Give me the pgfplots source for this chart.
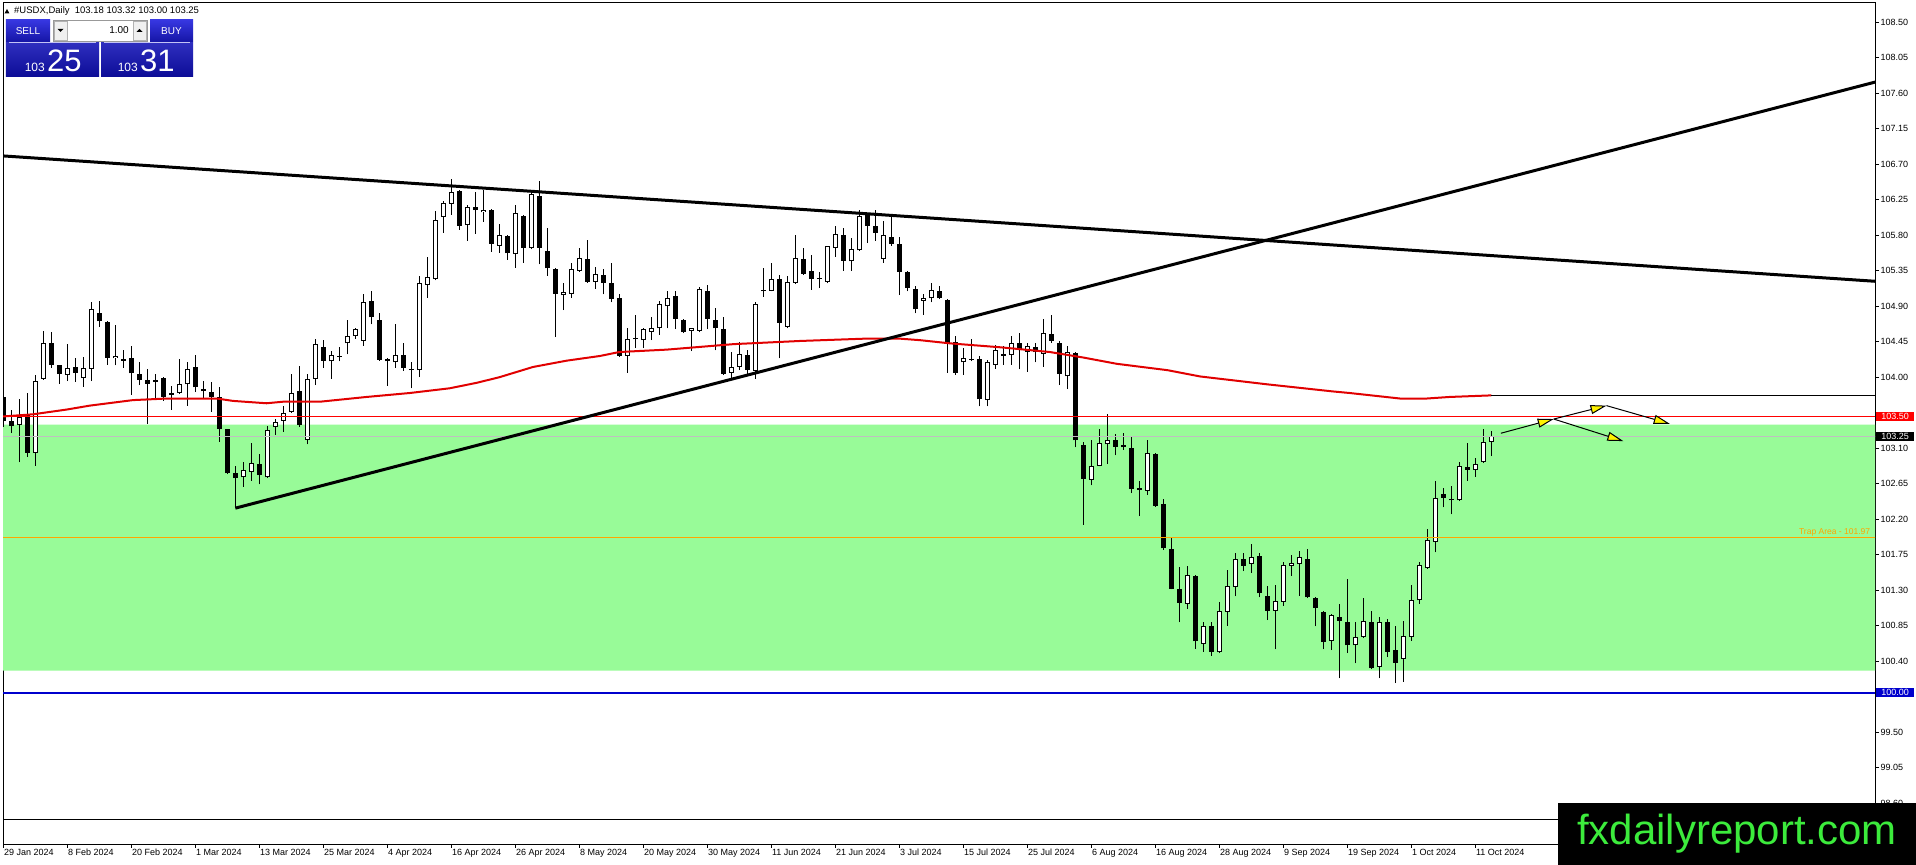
\documentclass[border=0pt]{standalone}
\usepackage{pgfplots}
\pgfplotsset{compat=1.18}
\usepackage{pgfplotstable}
\usepackage{fontspec}
\setmainfont{Liberation Sans}
\usetikzlibrary{arrows.meta}
\definecolor{zone}{RGB}{152,251,152}
\definecolor{lvlblue}{RGB}{0,0,205}
\definecolor{maRed}{RGB}{225,0,0}
\definecolor{trap}{RGB}{255,165,0}
\definecolor{fxgreen}{RGB}{60,235,60}
\definecolor{btntop}{RGB}{55,55,225}
\definecolor{btnbot}{RGB}{12,12,150}

\pgfplotstableread{
i o h l c
0 103.75 103.80 103.37 103.44
1 103.45 103.59 103.29 103.38
3 103.52 103.80 102.99 103.04
6 104.44 104.57 104.12 104.16
7 104.15 104.16 103.92 104.04
9 104.13 104.24 103.94 104.06
12 104.82 104.97 104.64 104.71
13 104.70 104.71 104.16 104.25
15 104.23 104.35 104.12 104.21
16 104.24 104.39 103.78 104.05
17 104.04 104.19 103.90 103.97
18 103.97 104.11 103.41 103.92
19 103.96 104.04 103.74 103.94
20 103.99 104.00 103.70 103.75
21 103.80 103.89 103.59 103.78
24 104.13 104.28 103.81 103.87
25 103.85 103.95 103.73 103.82
26 103.81 103.94 103.56 103.75
27 103.75 103.87 103.18 103.35
28 103.34 103.35 102.77 102.78
29 102.78 102.88 102.34 102.72
32 102.90 103.03 102.64 102.76
37 103.83 104.14 103.37 103.40
40 104.38 104.47 104.12 104.21
46 104.97 105.09 104.67 104.76
47 104.72 104.82 104.21 104.22
48 104.23 104.24 103.89 104.20
50 104.28 104.44 104.08 104.12
51 104.11 104.19 103.86 104.09
57 106.36 106.37 105.87 105.92
59 106.16 106.35 105.82 106.12
61 106.12 106.13 105.59 105.69
63 105.79 105.80 105.49 105.57
65 106.05 106.06 105.45 105.64
67 106.30 106.49 105.43 105.64
68 105.60 105.89 105.29 105.38
69 105.37 105.38 104.51 105.06
73 105.50 105.74 105.20 105.21
75 105.30 105.37 105.05 105.20
76 105.20 105.45 104.95 104.99
77 105.00 105.06 104.26 104.27
84 105.03 105.10 104.61 104.74
85 104.73 104.74 104.56 104.57
88 105.10 105.17 104.61 104.74
89 104.73 104.88 104.34 104.62
90 104.61 104.76 104.03 104.04
93 104.28 104.35 104.03 104.09
95 105.11 105.39 105.02 105.09
97 105.25 105.30 104.24 104.69
100 105.50 105.64 105.30 105.31
101 105.35 105.55 105.11 105.25
102 105.26 105.34 105.13 105.24
105 105.81 105.89 105.35 105.48
108 106.06 106.07 105.70 105.92
109 105.92 106.12 105.73 105.83
111 105.78 106.04 105.67 105.69
112 105.69 105.78 105.04 105.34
113 105.34 105.35 105.09 105.13
114 105.12 105.16 104.81 104.86
117 105.10 105.16 104.99 105.00
118 104.98 104.99 104.06 104.44
119 104.45 104.52 104.03 104.06
122 104.23 104.27 103.63 103.72
125 104.30 104.40 104.16 104.27
127 104.43 104.56 104.10 104.35
129 104.38 104.44 104.19 104.32
131 104.55 104.79 104.44 104.46
132 104.44 104.46 103.90 104.04
134 104.31 104.32 103.11 103.20
135 103.14 103.18 102.13 102.71
139 103.21 103.28 103.01 103.12
140 103.14 103.29 103.08 103.11
141 103.10 103.25 102.53 102.58
142 102.59 102.69 102.24 102.57
144 103.03 103.04 102.36 102.37
145 102.39 102.45 101.81 101.83
146 101.82 101.96 101.31 101.32
147 101.32 101.60 100.89 101.14
149 101.48 101.49 100.56 100.65
151 100.85 100.90 100.47 100.52
155 101.70 101.77 101.54 101.61
157 101.73 101.77 101.21 101.26
158 101.23 101.35 100.92 101.04
163 101.70 101.82 101.20 101.21
164 101.20 101.21 100.84 101.08
165 101.02 101.03 100.55 100.64
167 100.96 101.13 100.18 100.91
168 100.89 101.44 100.50 100.60
171 100.89 101.03 100.30 100.31
173 100.89 100.94 100.45 100.52
174 100.54 100.85 100.12 100.38
180 102.52 102.59 102.35 102.47
181 102.46 102.62 102.26 102.44
183 102.86 103.16 102.69 102.83
}\bear

\pgfplotstableread{
i o h l c
2 103.39 103.73 102.92 103.50
4 103.04 104.03 102.88 103.95
5 103.98 104.59 103.97 104.43
8 104.03 104.42 103.95 104.12
10 103.99 104.26 103.88 104.12
11 104.11 104.95 103.95 104.86
14 104.24 104.66 104.15 104.27
22 103.80 104.23 103.79 103.92
23 103.91 104.19 103.64 104.11
30 102.73 102.92 102.61 102.83
31 102.80 103.16 102.69 102.91
33 102.73 103.38 102.72 103.33
34 103.37 103.47 103.27 103.43
35 103.45 103.64 103.31 103.55
36 103.56 104.04 103.55 103.80
38 103.21 104.04 103.15 103.98
39 103.98 104.48 103.90 104.42
41 104.20 104.33 103.98 104.28
42 104.26 104.38 104.20 104.27
43 104.43 104.72 104.29 104.52
44 104.52 104.62 104.49 104.61
45 104.46 105.06 104.40 104.95
49 104.19 104.68 104.12 104.28
52 104.09 105.29 104.00 105.19
53 105.17 105.52 105.01 105.27
54 105.25 106.11 105.23 106.00
55 106.03 106.24 105.83 106.21
56 106.20 106.51 106.06 106.35
58 105.93 106.18 105.73 106.16
60 106.09 106.38 105.97 106.12
62 105.67 105.94 105.58 105.81
64 105.56 106.18 105.39 106.08
66 105.64 106.35 105.62 106.32
70 105.04 105.19 104.85 105.08
71 105.06 105.45 105.01 105.37
72 105.35 105.64 105.34 105.51
74 105.21 105.40 105.12 105.31
78 104.27 104.63 104.06 104.49
79 104.48 104.79 104.37 104.49
80 104.47 104.63 104.37 104.61
81 104.58 104.76 104.47 104.63
82 104.62 104.97 104.54 104.93
83 104.90 105.10 104.62 105.01
86 104.59 104.63 104.33 104.62
87 104.59 105.14 104.57 105.12
91 104.06 104.32 103.98 104.13
92 104.13 104.45 104.09 104.30
94 104.08 104.95 103.98 104.93
96 105.10 105.45 105.09 105.25
98 104.64 105.28 104.62 105.21
99 105.20 105.80 105.18 105.51
103 105.21 105.67 105.19 105.66
104 105.64 105.92 105.53 105.82
106 105.47 105.77 105.35 105.62
107 105.61 106.12 105.60 106.05
110 105.50 105.98 105.45 105.80
115 104.97 105.06 104.79 105.00
116 105.00 105.20 104.95 105.11
120 104.19 104.37 104.03 104.25
121 104.22 104.49 104.20 104.23
123 103.71 104.22 103.63 104.19
124 104.16 104.41 104.11 104.35
126 104.28 104.52 104.16 104.43
128 104.32 104.44 104.07 104.39
130 104.30 104.74 104.13 104.56
133 104.01 104.40 103.85 104.32
136 102.70 103.21 102.63 102.88
137 102.88 103.35 102.87 103.16
138 103.15 103.53 102.90 103.20
143 102.56 103.21 102.51 103.04
148 101.13 101.61 101.06 101.49
150 100.62 100.90 100.52 100.84
152 100.51 101.15 100.50 101.04
153 101.02 101.56 100.85 101.35
154 101.34 101.77 101.22 101.70
156 101.63 101.89 101.52 101.72
159 101.04 101.37 100.55 101.16
160 101.15 101.66 101.10 101.62
161 101.61 101.75 101.48 101.64
162 101.63 101.80 101.23 101.72
166 100.66 101.00 100.54 100.99
169 100.60 100.89 100.37 100.70
170 100.71 101.20 100.69 100.91
172 100.33 100.96 100.18 100.89
175 100.43 100.91 100.14 100.72
176 100.71 101.37 100.66 101.18
177 101.17 101.66 101.13 101.62
178 101.58 102.07 101.57 101.93
179 101.91 102.68 101.78 102.47
182 102.44 102.92 102.43 102.88
184 102.83 102.97 102.74 102.90
185 102.92 103.34 102.91 103.18
186 103.18 103.32 103.00 103.25
}\bull

\newcommand{\lbl}{\fontsize{9bp}{10bp}\selectfont}
\pgfplotsset{candle/.style={draw=none, no markers, error bars/.cd, y dir=plus, y explicit, error mark=none}}

\begin{document}
\begin{tikzpicture}
\useasboundingbox (-3bp,-21bp) rectangle (1913bp,844bp);
\fill[white] (-3bp,-21bp) rectangle (1913bp,844bp);
\begin{axis}[
  at={(0,0)}, anchor=south west, scale only axis,
  width=1872bp, height=841bp,
  xmin=-0.04, xmax=233.96, ymin=98.081, ymax=108.746,
  axis line style={black, line width=1bp},
  tick align=outside, major tick length=4bp,
  every tick/.style={black, line width=0.8bp},
  xtick pos=left, ytick pos=right, yticklabel pos=right,
  /pgf/number format/assume math mode=true,
  xtick={0,8,...,184},
  xticklabels={29 Jan 2024,8 Feb 2024,20 Feb 2024,1 Mar 2024,13 Mar 2024,25 Mar 2024,4 Apr 2024,16 Apr 2024,26 Apr 2024,8 May 2024,20 May 2024,30 May 2024,11 Jun 2024,21 Jun 2024,3 Jul 2024,15 Jul 2024,25 Jul 2024,6 Aug 2024,16 Aug 2024,28 Aug 2024,9 Sep 2024,19 Sep 2024,1 Oct 2024,11 Oct 2024},
  xticklabel style={anchor=north west, inner xsep=0.5bp, inner ysep=1bp, font=\lbl},
  ytick={98.60,99.05,99.50,99.95,100.40,100.85,101.30,101.75,102.20,102.65,103.10,103.55,104.00,104.45,104.90,105.35,105.80,106.25,106.70,107.15,107.60,108.05,108.50},
  yticklabels={98.60,99.05,99.50,,100.40,100.85,101.30,101.75,102.20,102.65,103.10,,104.00,104.45,104.90,105.35,105.80,106.25,106.70,107.15,107.60,108.05,108.50},
  yticklabel style={anchor=west, inner xsep=1.5bp, font=\lbl},
]
% zone
\addplot[fill=zone, draw=none] coordinates {(-1,100.28) (235,100.28) (235,103.40) (-1,103.40) (-1,100.28)};
% candles: wicks
\addplot[candle, error bar style={draw=black, line width=1bp}]
  table[x=i, y=l, y error plus expr={\thisrow{h}-\thisrow{l}}] {\bear};
\addplot[candle, error bar style={draw=black, line width=1bp}]
  table[x=i, y=l, y error plus expr={\thisrow{h}-\thisrow{l}}] {\bull};
% bodies
\addplot[candle, error bar style={draw=black, line width=5bp}]
  table[x=i, y=c, y error plus expr={max(\thisrow{o}-\thisrow{c},0.013)}] {\bear};
\addplot[candle, error bar style={draw=black, line width=5bp}]
  table[x=i, y=o, y error plus expr={max(\thisrow{c}-\thisrow{o},0.013)}] {\bull};
\addplot[candle, error bar style={draw=white, line width=3bp}]
  table[x=i, y expr={\thisrow{o}+0.0127}, y error plus expr={max(\thisrow{c}-\thisrow{o}-0.0254,0)}] {\bull};
% moving average
\addplot[maRed, line width=2bp] coordinates {(-0.4,103.50) (3.7,103.53) (7.9,103.59) (10.8,103.64) (16.2,103.71) (20.4,103.73) (26.7,103.73) (28.7,103.70) (32.9,103.67) (35,103.69) (39.6,103.69) (45.4,103.75) (50.8,103.80) (55.8,103.86) (59.2,103.93) (62,104.00) (66.2,104.13) (70.4,104.21) (74.6,104.27) (77,104.32) (82.9,104.35) (91.3,104.42) (99.6,104.46) (107.9,104.49) (112,104.49) (114.6,104.47) (118.3,104.43) (124.6,104.38) (130.8,104.32) (135,104.25) (139.2,104.17) (145.5,104.09) (149.6,104.01) (158,103.91) (166.2,103.82) (168.3,103.80) (174.6,103.73) (177.9,103.73) (180.8,103.75) (186,103.77)};
\addplot[black, line width=1.3bp] coordinates {(186,103.77) (235,103.77)};
% horizontal levels
\addplot[red, line width=1bp] coordinates {(-1,103.50) (235,103.50)};
\addplot[black!25, line width=1bp] coordinates {(-1,103.25) (235,103.25)};
\addplot[trap, line width=1.2bp] coordinates {(-1,101.97) (235,101.97)};
\addplot[lvlblue, line width=2bp] coordinates {(-1,100.00) (235,100.00)};
\addplot[black, line width=1bp] coordinates {(-1,98.386) (235,98.386)};
% trend lines
\addplot[black, line width=3bp] coordinates {(-0.5,106.81) (235,105.21)};
\addplot[black, line width=3bp] coordinates {(29,102.34) (235,107.77)};
% arrows
\addplot[black, line width=1bp, -{Triangle[length=16bp,width=9bp,fill=yellow]}] coordinates {(187.2,103.29) (193.8,103.47)};
\addplot[black, line width=1bp, -{Triangle[length=16bp,width=9bp,fill=yellow]}] coordinates {(193.8,103.47) (200.4,103.64)};
\addplot[black, line width=1bp, -{Triangle[length=16bp,width=9bp,fill=yellow]}] coordinates {(200.4,103.64) (208.3,103.41)};
\addplot[black, line width=1bp, -{Triangle[length=16bp,width=9bp,fill=yellow]}] coordinates {(193.8,103.47) (202.5,103.19)};
\node[anchor=south east, text=trap, inner sep=1bp, font=\fontsize{8.5bp}{9bp}\selectfont] at (axis cs:233.5,101.97) {Trap Area - 101.97};
\coordinate (pA) at (axis cs:233.96,103.50);
\coordinate (pB) at (axis cs:233.96,103.25);
\coordinate (pC) at (axis cs:233.96,100.00);
\end{axis}
% price labels on the scale
\node[fill=red, text=white, anchor=west, inner xsep=2bp, inner ysep=1bp, minimum width=38bp, font=\lbl, xshift=1bp] at (pA) {103.50};
\node[fill=black, text=white, anchor=west, inner xsep=2bp, inner ysep=1bp, minimum width=38bp, font=\lbl, xshift=1bp] at (pB) {103.25};
\node[fill=lvlblue, text=white, anchor=west, inner xsep=2bp, inner ysep=1bp, minimum width=38bp, font=\lbl, xshift=1bp] at (pC) {100.00};
% header panel and watermark in pixel coordinates
\begin{scope}[xshift=-3bp, yshift=844bp, x=1bp, y=-1bp]
  \fill[black] (4.5,13.5) -- (9.5,13.5) -- (7,9) -- cycle;
  \node[anchor=west, inner sep=0pt, font=\fontsize{9.5bp}{11bp}\selectfont] at (14,11) {\#USDX,Daily\ \ 103.18 103.32 103.00 103.25};
  % SELL
  \shade[top color=btntop, bottom color=btnbot!80!btntop] (6,20) rectangle (50,42);
  \node[text=white, font=\fontsize{10bp}{11bp}\selectfont] at (28,31) {SELL};
  % lot box
  \draw[black!40, fill=white] (53,20.5) rectangle (147,41);
  \draw[black!30, fill=black!6] (54,21.5) rectangle (67,40);
  \fill[black] (57.5,29) -- (63.5,29) -- (60.5,32) -- cycle;
  \draw[black!30, fill=black!6] (133,21.5) rectangle (146,40);
  \fill[black] (136.5,32) -- (142.5,32) -- (139.5,29) -- cycle;
  \node[anchor=east, inner sep=0pt, font=\fontsize{10bp}{11bp}\selectfont] at (129,30.5) {1.00};
  % BUY
  \shade[top color=btntop, bottom color=btnbot!80!btntop] (150,20) rectangle (193,42);
  \node[text=white, font=\fontsize{10bp}{11bp}\selectfont] at (171.5,31) {BUY};
  % price panels
  \shade[top color=btntop!85!black, bottom color=btnbot] (6,42.5) rectangle (99,77);
  \shade[top color=btntop!85!black, bottom color=btnbot] (101,42.5) rectangle (193,77);
  \draw[white!70!btntop, line width=0.8bp] (9,42.5) -- (96,42.5);
  \draw[white!70!btntop, line width=0.8bp] (104,42.5) -- (190,42.5);
  \node[anchor=base east, inner sep=0pt, text=white, font=\fontsize{12bp}{13bp}\selectfont] at (45,72) {103};
  \node[anchor=base west, inner sep=0pt, text=white, font=\fontsize{31bp}{32bp}\selectfont] at (47,72) {25};
  \node[anchor=base east, inner sep=0pt, text=white, font=\fontsize{12bp}{13bp}\selectfont] at (138,72) {103};
  \node[anchor=base west, inner sep=0pt, text=white, font=\fontsize{31bp}{32bp}\selectfont] at (140,72) {31};
  % watermark
  \fill[black] (1558,803) rectangle (1916,865);
  \node[anchor=base, inner sep=0pt, text=fxgreen, font=\fontsize{42bp}{44bp}\selectfont] at (1737,845) {fxdailyreport.com};
\end{scope}
\end{tikzpicture}
\end{document}
